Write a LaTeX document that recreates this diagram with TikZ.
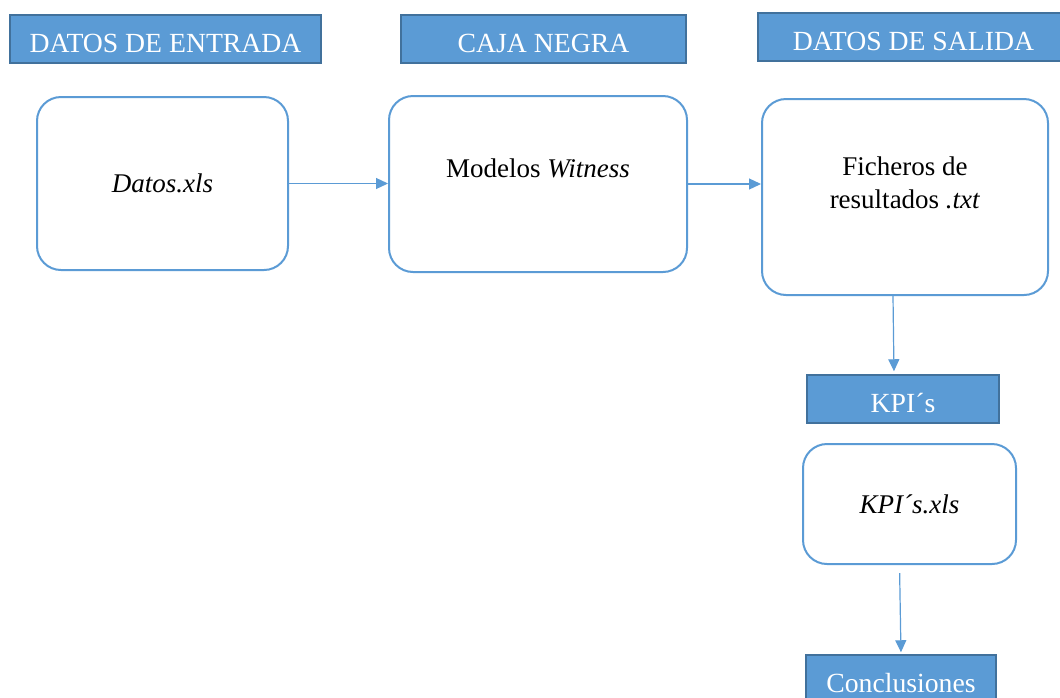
\documentclass[tikz,border=0pt]{standalone}
\usepackage{fontspec}
\setmainfont{Liberation Serif}
\usetikzlibrary{arrows.meta,positioning}
\definecolor{azul}{HTML}{5B9BD5}
\definecolor{azulborde}{HTML}{41719C}

\begin{document}
\begin{tikzpicture}[x=1pt,y=-1pt,align=center]
\tikzstyle{titulo}=[rectangle,draw=azulborde,fill=azul,line width=1.5pt,text=white,minimum height=48pt,inner sep=0pt,font=\fontsize{27.7}{33}\selectfont,text height=26pt,text depth=0pt]
\tikzstyle{bloque}=[rectangle,rounded corners=24pt,draw=azul,line width=2pt,fill=white,inner sep=0pt,font=\fontsize{27}{33}\selectfont]
\tikzstyle{flecha}=[-{Triangle[length=12pt,width=11pt]},draw=azul,line width=1.2pt]

\useasboundingbox (0,0) rectangle (1060,697);

\node[titulo,minimum width=311pt] (entrada) at (165.5,39) {DATOS DE ENTRADA};
\node[titulo,minimum width=285pt] (caja) at (543.5,39) {CAJA NEGRA};
\node[titulo,minimum width=311pt] (salida) at (913.5,37) {DATOS DE SALIDA};

\node[bloque,minimum width=251pt,minimum height=173pt] (datos) at (162.5,183.5) {\textit{Datos.xls}};
\node[bloque,minimum width=298pt,minimum height=176pt,text depth=32pt] (modelos) at (538,184) {Modelos \textit{Witness}};
\node[bloque,minimum width=286pt,minimum height=196pt,text depth=29.5pt] (ficheros) at (905,197) {Ficheros de\\resultados \textit{.txt}};

\node[titulo,minimum width=192pt] (kpi) at (903,399) {KPI´s};
\node[bloque,minimum width=213pt,minimum height=120pt] (kpixls) at (909.5,504) {\textit{KPI´s.xls}};
\node[titulo,minimum width=190pt] (conclusiones) at (901,679) {Conclusiones};

\path
  (datos.east) edge [flecha] (datos.east -| modelos.west)
  (modelos.east) edge [flecha] (modelos.east -| ficheros.west)
  ([xshift=-12pt]ficheros.south) edge [flecha, shorten >=3pt] ([xshift=-9pt]kpi.north)
  ([xshift=-10pt]kpixls.south) edge [flecha, shorten <=8pt, shorten >=2pt] (conclusiones.north);
\end{tikzpicture}
\end{document}
